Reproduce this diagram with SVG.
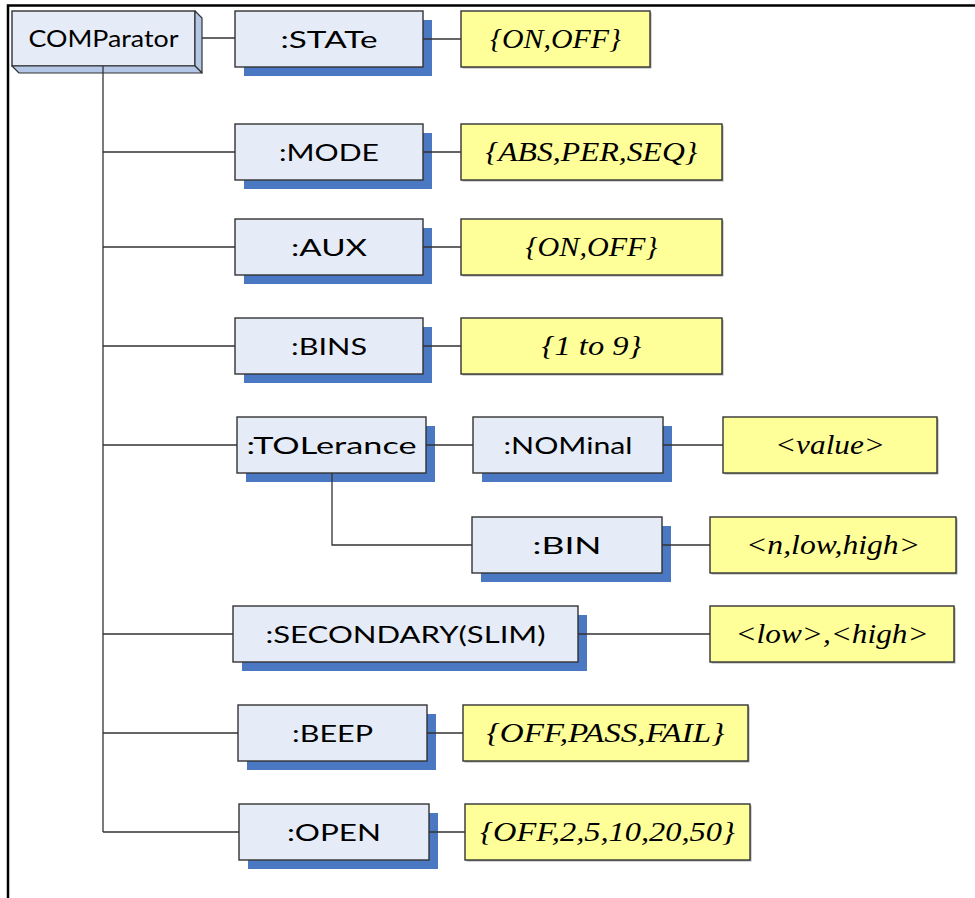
<svg xmlns="http://www.w3.org/2000/svg" width="975" height="898" viewBox="0 0 975 898">
<style>
.sh{fill:#4a78c2}
.cmd{fill:#e6ecf7;stroke:#333;stroke-width:1.4}
.val{fill:#ffff99;stroke:#333;stroke-width:1.4}
.vsh{fill:#a8a8a8}
.face{fill:#b4c7e7;stroke:#333;stroke-width:1.2;stroke-linejoin:round}
.t{font-family:Lato,'Open Sans',sans-serif;font-size:24px;fill:#000;text-anchor:middle}
.c{fill:none;stroke:#333;stroke-width:1.3}
</style>
<rect width="975" height="898" fill="#fff"/>
<g id="frame"><path d="M8,898 V5.5 H975" fill="none" stroke="#000" stroke-width="2.5"/></g>

<g id="n-comparator">
<rect x="12" y="11" width="183" height="55" class="cmd"/>
<polygon points="195,11 202,18 202,73 195,66" class="face"/>
<polygon points="12,66 195,66 202,73 19,73" class="face"/>
<text x="103.5" y="46.5" class="t" font-size="23" textLength="150" lengthAdjust="spacingAndGlyphs">COMParator</text>
</g>

<g id="n-state"><rect x="244" y="20" width="188" height="56" class="sh"/><rect x="235" y="11" width="188" height="56" class="cmd"/><text x="329" y="47.5" class="t" textLength="97" lengthAdjust="spacingAndGlyphs">:STATe</text></g>
<g id="n-mode"><rect x="244" y="133" width="188" height="56" class="sh"/><rect x="235" y="124" width="188" height="56" class="cmd"/><text x="329" y="160.5" class="t" textLength="100" lengthAdjust="spacingAndGlyphs">:MODE</text></g>
<g id="n-aux"><rect x="244" y="228" width="188" height="56" class="sh"/><rect x="235" y="219" width="188" height="56" class="cmd"/><text x="329" y="255.5" class="t" textLength="76" lengthAdjust="spacingAndGlyphs">:AUX</text></g>
<g id="n-bins"><rect x="244" y="327" width="188" height="56" class="sh"/><rect x="235" y="318" width="188" height="56" class="cmd"/><text x="329" y="354.5" class="t" textLength="76" lengthAdjust="spacingAndGlyphs">:BINS</text></g>
<g id="n-tolerance"><rect x="246" y="426" width="189" height="56" class="sh"/><rect x="237" y="417" width="189" height="56" class="cmd"/><text x="331.5" y="453.5" class="t" textLength="170" lengthAdjust="spacingAndGlyphs">:TOLerance</text></g>
<g id="n-nominal"><rect x="482" y="426" width="190" height="56" class="sh"/><rect x="473" y="417" width="190" height="56" class="cmd"/><text x="568" y="453.5" class="t" textLength="129" lengthAdjust="spacingAndGlyphs">:NOMinal</text></g>
<g id="n-bin"><rect x="481" y="526" width="190" height="56" class="sh"/><rect x="472" y="517" width="190" height="56" class="cmd"/><text x="567" y="553.5" class="t" textLength="69" lengthAdjust="spacingAndGlyphs">:BIN</text></g>
<g id="n-secondary"><rect x="242" y="615" width="345" height="56" class="sh"/><rect x="233" y="606" width="345" height="56" class="cmd"/><text x="405.5" y="642.5" class="t" textLength="280" lengthAdjust="spacingAndGlyphs">:SECONDARY(SLIM)</text></g>
<g id="n-beep"><rect x="247" y="714" width="189" height="56" class="sh"/><rect x="238" y="705" width="189" height="56" class="cmd"/><text x="332.5" y="741.5" class="t" textLength="81" lengthAdjust="spacingAndGlyphs">:BEEP</text></g>
<g id="n-open"><rect x="248" y="813" width="190" height="56" class="sh"/><rect x="239" y="804" width="190" height="56" class="cmd"/><text x="334" y="840.5" class="t" textLength="94" lengthAdjust="spacingAndGlyphs">:OPEN</text></g>

<g font-family="'Liberation Serif', serif" font-style="italic" font-size="28" text-anchor="middle" fill="#000">
<g id="v-state"><rect x="462.5" y="12.5" width="189" height="56" class="vsh"/><rect x="461" y="11" width="189" height="56" class="val"/><text x="555.5" y="48" textLength="131" lengthAdjust="spacingAndGlyphs">{ON,OFF}</text></g>
<g id="v-mode"><rect x="462.5" y="125.5" width="261" height="56" class="vsh"/><rect x="461" y="124" width="261" height="56" class="val"/><text x="591.5" y="161" textLength="212" lengthAdjust="spacingAndGlyphs">{ABS,PER,SEQ}</text></g>
<g id="v-aux"><rect x="462.5" y="220.5" width="261" height="56" class="vsh"/><rect x="461" y="219" width="261" height="56" class="val"/><text x="591.5" y="256" textLength="132" lengthAdjust="spacingAndGlyphs">{ON,OFF}</text></g>
<g id="v-bins"><rect x="462.5" y="319.5" width="261" height="56" class="vsh"/><rect x="461" y="318" width="261" height="56" class="val"/><text x="591.5" y="355" textLength="100" lengthAdjust="spacingAndGlyphs">{1 to 9}</text></g>
<g id="v-nominal"><rect x="724.5" y="418.5" width="214" height="56" class="vsh"/><rect x="723" y="417" width="214" height="56" class="val"/><text x="830" y="454" textLength="110" lengthAdjust="spacingAndGlyphs">&lt;value&gt;</text></g>
<g id="v-bin"><rect x="711.5" y="518.5" width="246" height="56" class="vsh"/><rect x="710" y="517" width="246" height="56" class="val"/><text x="833" y="554" textLength="174" lengthAdjust="spacingAndGlyphs">&lt;n,low,high&gt;</text></g>
<g id="v-secondary"><rect x="711.5" y="607.5" width="244" height="56" class="vsh"/><rect x="710" y="606" width="244" height="56" class="val"/><text x="832" y="643" textLength="193" lengthAdjust="spacingAndGlyphs">&lt;low&gt;,&lt;high&gt;</text></g>
<g id="v-beep"><rect x="464.5" y="706.5" width="285" height="56" class="vsh"/><rect x="463" y="705" width="285" height="56" class="val"/><text x="605.5" y="742" textLength="238" lengthAdjust="spacingAndGlyphs">{OFF,PASS,FAIL}</text></g>
<g id="v-open"><rect x="466.5" y="805.5" width="285" height="56" class="vsh"/><rect x="465" y="804" width="285" height="56" class="val"/><text x="607.5" y="841" textLength="255" lengthAdjust="spacingAndGlyphs">{OFF,2,5,10,20,50}</text></g>
</g>

<g id="connectors" class="c">
<path d="M202,38 H235"/>
<path d="M423,39 H461"/>
<path d="M103,66 V832"/>
<path d="M103,152 H235 M423,152 H461"/>
<path d="M103,247 H235 M423,247 H461"/>
<path d="M103,346 H235 M423,346 H461"/>
<path d="M103,445 H237 M426,445 H473 M663,445 H723"/>
<path d="M332,473 V545 H472 M662,545 H710"/>
<path d="M103,634 H233 M578,634 H710"/>
<path d="M103,733 H238 M427,733 H463"/>
<path d="M103,832 H239 M429,832 H465"/>
</g>
</svg>
